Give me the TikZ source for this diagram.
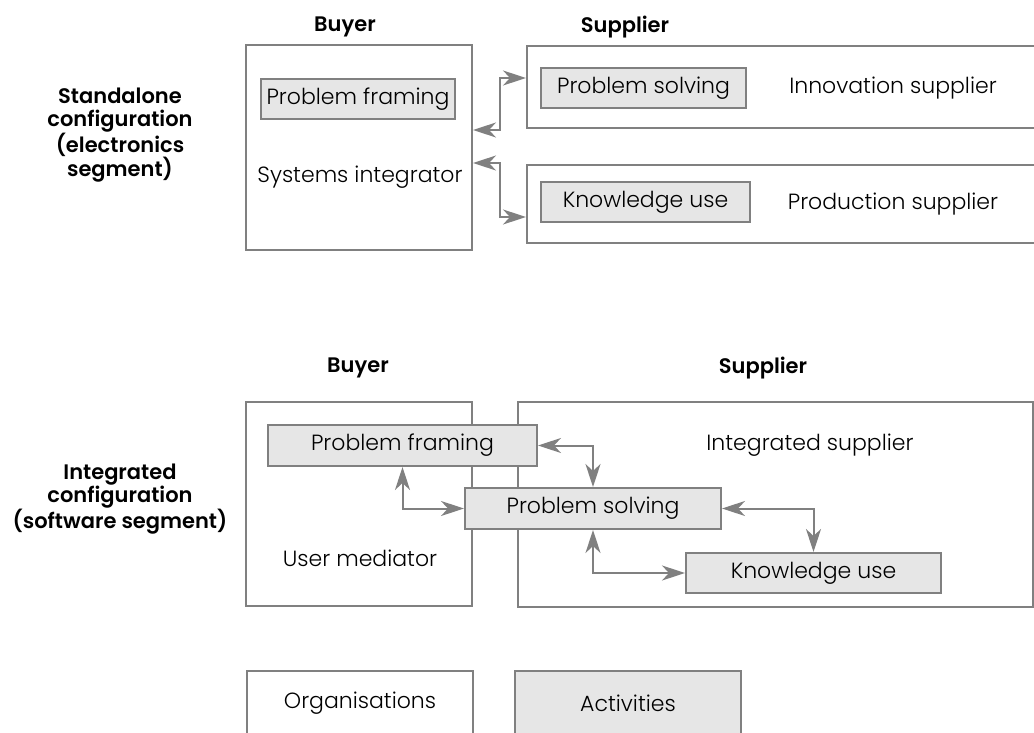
\documentclass[tikz,border=0pt]{standalone}
\usepackage{fontspec}
\setmainfont{Poppins}[UprightFont=* Light, BoldFont=* SemiBold]
\usetikzlibrary{arrows.meta}
\definecolor{boxline}{HTML}{808080}
\definecolor{actfill}{HTML}{E6E6E6}
\tikzset{
  orgbox/.style={shape=rectangle, draw=boxline, line width=2pt, fill=white, inner sep=0pt},
  actbox/.style={shape=rectangle, draw=boxline, line width=2pt, fill=actfill, inner sep=0pt, font=\fontsize{22}{24}\selectfont},
  plain/.style={font=\fontsize{22}{24}\selectfont, inner sep=0pt},
  head/.style={font=\fontsize{21}{23}\selectfont\bfseries, inner sep=0pt, align=center},
  flowtip/.tip={Stealth[length=23pt,width=15pt,inset=7pt]},
  flow/.style={draw=boxline, line width=2pt, flowtip-flowtip}
}
\begin{document}
\begin{tikzpicture}[x=1pt, y=-1pt]
\useasboundingbox (0,0) rectangle (1034,733);
% standalone configuration
\node [head] (buyA) at (345,27) {Buyer};
\node [head] (supA) at (625,27) {Supplier};
\node [head] (confA) at (120,135) {Standalone\\configuration\\(electronics\\segment)};
\node [orgbox, minimum width=226pt, minimum height=205pt] (sysint) at (359,147.5) {};
\node [orgbox, minimum width=533pt, minimum height=82pt] (innov) at (793.5,87) {};
\node [orgbox, minimum width=533pt, minimum height=78pt] (prod) at (793.5,204) {};
\node [actbox, minimum width=194pt, minimum height=40pt] (pfA) at (358,99) {Problem framing};
\node [actbox, minimum width=205pt, minimum height=40pt] (psA) at (643.5,88) {Problem solving};
\node [actbox, minimum width=209pt, minimum height=40pt] (kuA) at (645.5,202) {Knowledge use};
\node [plain] (sysintT) at (360,177) {Systems integrator};
\node [plain] (innovT) at (893,88) {Innovation supplier};
\node [plain] (prodT) at (893,204) {Production supplier};
\draw [flow] (sysint.east |- 0,130) -- (500,130) |- (innov.west |- 0,78);
\draw [flow] (sysint.east |- 0,163) -- (500,163) |- (prod.west |- 0,217);
% integrated configuration
\node [head] (buyB) at (358,368) {Buyer};
\node [head] (supB) at (763,368) {Supplier};
\node [head] (confB) at (120,499) {Integrated\\configuration\\(software segment)};
\node [orgbox, minimum width=226pt, minimum height=204pt] (usermed) at (359,504) {};
\node [orgbox, minimum width=515pt, minimum height=205pt] (integ) at (775.5,504.5) {};
\node [actbox, minimum width=269pt, minimum height=41pt] (pfB) at (402.5,445.5) {Problem framing};
\node [actbox, minimum width=256pt, minimum height=41pt] (psB) at (593,508.5) {Problem solving};
\node [actbox, minimum width=255pt, minimum height=40pt] (kuB) at (813.5,573) {Knowledge use};
\node [plain] (integT) at (810,445) {Integrated supplier};
\node [plain] (usermedT) at (360,558) {User mediator};
\draw [flow] (pfB.east) -| (psB.north);
\draw [flow] (pfB.south) |- (psB.west);
\draw [flow] (psB.east) -| (kuB.north);
\draw [flow] (psB.south) |- (kuB.west);
% legend
\node [orgbox, minimum width=226pt, minimum height=90pt] (orgs) at (360,716) {};
\node [actbox, minimum width=226pt, minimum height=90pt] (acts) at (628,716) {};
\node [plain] (orgsT) at (360,703) {Organisations};
\node [plain] (actsT) at (628,703) {Activities};
\end{tikzpicture}
\end{document}
